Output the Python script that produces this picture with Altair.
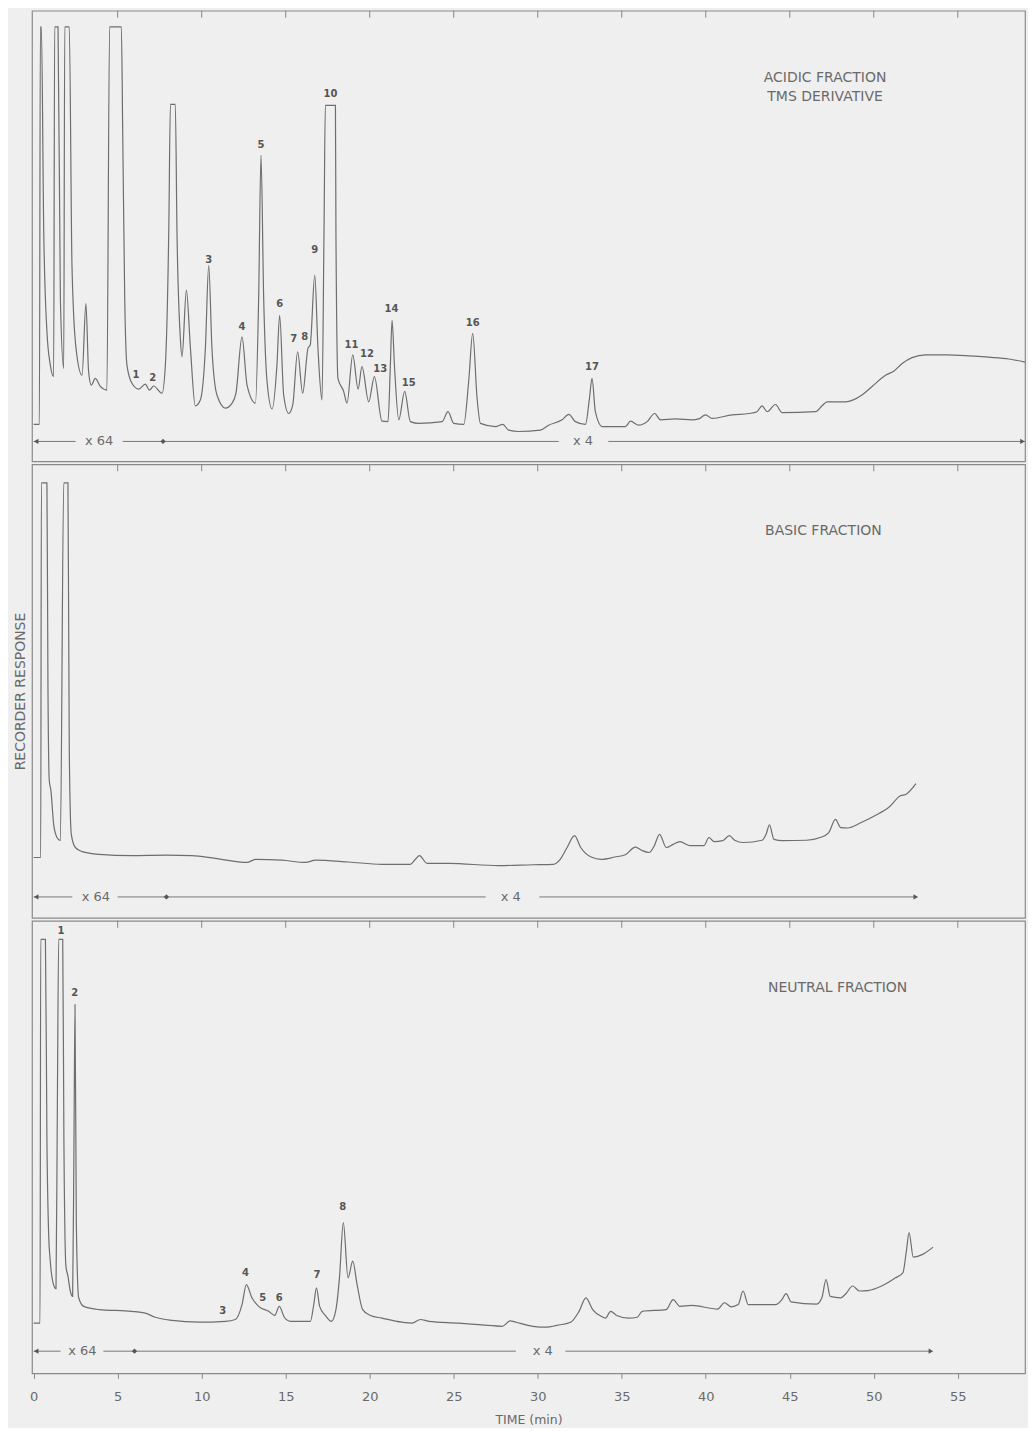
import altair as alt
import pandas as pd

# ---------------- data ----------------
X_DOMAIN = [-0.1, 59.0]
TICK_MINUTES = [5, 10, 15, 20, 25, 30, 35, 40, 45, 50, 55]
AXIS_LABELS = [0, 5, 10, 15, 20, 25, 30, 35, 40, 45, 50, 55]

# (time min, response % of panel height)
acid_trace = [
    (0.0, 8.2), (0.34, 8.2), (0.40, 96.4), (0.46, 96.4), (0.60, 51.0), (0.79, 28.8), (0.99, 21.4),
    (1.19, 18.8), (1.25, 96.4), (1.45, 96.4), (1.59, 36.1), (1.79, 20.6), (1.85, 96.4), (2.12, 96.4),
    (2.28, 43.5), (2.52, 25.1), (2.88, 19.1), (3.11, 35.0), (3.27, 19.9), (3.43, 16.9), (3.67, 18.4),
    (3.97, 16.6), (4.36, 15.8), (4.52, 96.4), (5.22, 96.4), (5.30, 73.0), (5.42, 36.1), (5.55, 21.4),
    (5.85, 17.3), (6.25, 16.0), (6.65, 17.1), (6.89, 15.8), (7.14, 16.7), (7.64, 15.1), (7.84, 21.4),
    (8.04, 50.9), (8.14, 79.2), (8.43, 79.2), (8.53, 50.9), (8.73, 27.3), (8.83, 23.2), (9.09, 38.0),
    (9.33, 25.1), (9.62, 12.3), (9.92, 13.6), (10.22, 25.1), (10.42, 43.5), (10.61, 25.1), (10.91, 14.7),
    (11.41, 11.8), (11.81, 12.9), (12.04, 15.1), (12.40, 27.6), (12.70, 16.9), (13.20, 12.9), (13.39, 36.1),
    (13.53, 67.9), (13.69, 36.1), (13.89, 17.7), (14.19, 11.6), (14.48, 21.4), (14.64, 32.4), (14.88, 14.7),
    (15.18, 10.6), (15.42, 12.5), (15.71, 24.3), (16.01, 15.1), (16.33, 25.1), (16.46, 25.8), (16.73, 41.3),
    (16.92, 25.1), (17.16, 13.6), (17.28, 50.9), (17.36, 79.0), (17.96, 79.0), (17.99, 50.9), (18.11, 18.4),
    (18.45, 15.5), (18.65, 12.9), (18.99, 23.6), (19.31, 16.0), (19.54, 21.0), (19.94, 13.2), (20.28, 18.8),
    (20.73, 8.9), (21.09, 8.8), (21.23, 21.4), (21.33, 31.3), (21.47, 21.4), (21.73, 9.2), (22.08, 15.5),
    (22.42, 8.8), (22.92, 8.4), (24.31, 8.8), (24.66, 11.0), (25.0, 8.4), (25.6, 8.2), (25.89, 17.7),
    (26.13, 28.4), (26.39, 14.0), (26.59, 8.4), (27.48, 7.7), (27.92, 8.2), (28.27, 6.9), (28.87, 6.6),
    (30.16, 6.9), (30.65, 8.0), (31.45, 9.2), (31.85, 10.4), (32.24, 8.8), (32.84, 8.2), (33.08, 14.0),
    (33.23, 18.4), (33.43, 11.0), (33.83, 7.7), (35.22, 7.7), (35.52, 8.9), (36.01, 8.0), (36.51, 8.8),
    (36.96, 10.6), (37.30, 9.2), (38.19, 9.4), (39.19, 9.2), (39.58, 9.4), (39.98, 10.3), (40.38, 9.5),
    (41.57, 10.3), (42.56, 10.6), (43.05, 11.0), (43.35, 12.3), (43.65, 11.0), (44.15, 12.6), (44.54, 10.8),
    (46.53, 11.0), (46.92, 12.3), (47.22, 13.2), (48.31, 13.2), (49.30, 14.7), (49.90, 16.6), (50.70, 19.1),
    (51.19, 20.0), (51.69, 21.7), (52.28, 23.0), (53.08, 23.6), (54.27, 23.6), (55.65, 23.4), (56.85, 23.1),
    (58.04, 22.7), (59.0, 22.0),
]

basic_trace = [
    (0.0, 13.3), (0.42, 13.3), (0.46, 95.9), (0.79, 95.9), (0.85, 51.5), (0.93, 30.2), (1.03, 28.0),
    (1.19, 20.6), (1.39, 17.7), (1.59, 17.0), (1.79, 95.9), (2.04, 95.9), (2.12, 36.8), (2.24, 18.4),
    (2.48, 15.5), (2.88, 14.6), (3.87, 14.0), (5.85, 13.7), (7.84, 13.8), (9.42, 13.7), (10.81, 13.1),
    (12.70, 12.2), (13.20, 12.9), (14.78, 12.7), (16.17, 12.2), (16.77, 12.7), (18.75, 12.3), (20.73, 11.8),
    (22.42, 11.8), (22.72, 12.9), (22.96, 13.7), (23.41, 12.0), (24.70, 12.0), (27.68, 11.5), (29.71, 11.7),
    (30.93, 11.8), (31.34, 12.9), (31.75, 15.5), (32.19, 18.1), (32.56, 15.5), (33.18, 13.4), (33.78, 12.9),
    (34.59, 13.4), (35.21, 13.9), (35.81, 15.6), (36.22, 14.8), (36.63, 14.4), (36.94, 15.9), (37.25, 18.4),
    (37.65, 15.5), (38.06, 16.2), (38.46, 16.8), (39.08, 15.9), (39.89, 15.9), (40.19, 17.7), (40.50, 16.8),
    (41.00, 17.0), (41.41, 18.1), (41.72, 17.1), (42.22, 16.6), (43.35, 17.1), (43.59, 18.4), (43.79, 20.5),
    (44.06, 17.3), (44.57, 17.0), (46.00, 17.1), (46.81, 17.7), (47.32, 18.8), (47.72, 21.7), (48.03, 19.9),
    (48.44, 19.8), (49.25, 21.0), (50.06, 22.5), (50.88, 24.3), (51.59, 26.9), (51.90, 27.2), (52.51, 29.6),
]

neutral_trace = [
    (0.0, 11.1), (0.38, 11.1), (0.42, 95.9), (0.70, 95.9), (0.79, 51.5), (0.89, 31.1), (0.99, 24.8),
    (1.13, 20.4), (1.33, 18.7), (1.41, 58.9), (1.49, 95.9), (1.73, 95.9), (1.80, 51.5), (1.92, 23.7),
    (2.04, 21.5), (2.18, 18.2), (2.32, 17.0), (2.40, 51.5), (2.46, 81.5), (2.54, 33.0), (2.68, 16.7),
    (2.98, 14.8), (3.87, 14.1), (5.85, 13.7), (6.65, 13.3), (7.24, 12.4), (8.23, 11.7), (9.82, 11.3),
    (11.41, 11.5), (12.0, 11.9), (12.40, 15.2), (12.66, 19.6), (12.99, 16.7), (13.39, 14.8), (13.99, 13.7),
    (14.35, 12.8), (14.62, 14.8), (14.92, 12.4), (15.28, 11.5), (16.47, 11.5), (16.67, 15.2), (16.83, 18.9),
    (17.02, 14.8), (17.36, 12.8), (17.72, 11.5), (17.99, 14.1), (18.20, 21.1), (18.43, 33.3), (18.71, 21.1),
    (18.99, 24.8), (19.25, 19.6), (19.58, 14.1), (20.04, 12.8), (20.73, 12.2), (21.92, 11.3), (22.52, 11.1),
    (23.02, 11.9), (23.51, 11.5), (25.30, 11.1), (26.69, 10.7), (27.88, 10.4), (28.37, 11.6), (28.70, 11.3),
    (29.71, 10.4), (30.53, 10.2), (31.14, 10.6), (31.96, 11.3), (32.46, 13.7), (32.87, 16.7), (33.27, 14.1),
    (33.78, 12.6), (34.03, 12.2), (34.34, 13.7), (34.70, 12.8), (35.41, 12.2), (35.92, 12.4), (36.22, 13.7),
    (37.65, 14.1), (38.06, 16.3), (38.46, 14.8), (39.18, 15.0), (40.71, 14.2), (41.11, 15.6), (41.52, 14.7),
    (41.93, 15.2), (42.22, 18.2), (42.53, 15.2), (44.16, 15.2), (44.53, 16.3), (44.78, 17.6), (45.08, 15.8),
    (46.60, 15.3), (46.91, 16.7), (47.16, 20.7), (47.41, 17.0), (48.03, 16.7), (48.34, 17.6), (48.74, 19.3),
    (49.15, 18.2), (49.66, 18.3), (50.47, 19.3), (51.29, 21.1), (51.73, 22.2), (51.94, 27.0), (52.10, 31.1),
    (52.35, 25.7), (52.91, 26.3), (53.53, 27.9),
]

# peak numbers: (label, time, response)
acid_peaks = [
    ("1", 6.09, 19.1), ("2", 7.08, 18.4), ("3", 10.42, 44.6), ("4", 12.40, 29.9), ("5", 13.53, 70.1),
    ("6", 14.64, 35.0), ("7", 15.48, 27.1), ("8", 16.13, 27.6), ("9", 16.73, 46.9), ("10", 17.66, 81.6),
    ("11", 18.91, 25.8), ("12", 19.84, 23.9), ("13", 20.63, 20.5), ("14", 21.29, 33.9), ("15", 22.32, 17.3),
    ("16", 26.13, 30.6), ("17", 33.23, 21.0),
]
basic_peaks = []
neutral_peaks = [
    ("1", 1.63, 97.8), ("2", 2.44, 84.1), ("3", 11.25, 13.7), ("4", 12.60, 22.2), ("5", 13.63, 16.7),
    ("6", 14.62, 16.7), ("7", 16.86, 21.8), ("8", 18.39, 36.7),
]

# fraction names: (text line, time, response)
acid_names = [("ACIDIC FRACTION", 47.1, 85.1), ("TMS DERIVATIVE", 47.1, 80.9)]
basic_names = [("BASIC FRACTION", 47.0, 85.2)]
neutral_names = [("NEUTRAL FRACTION", 47.85, 85.1)]

# attenuation bars: segments (t, t2, v), labels (text, t, v), heads (shape, t, v)
acid_att_segments = [(0.0, 2.5, 4.4), (5.3, 31.25, 4.4), (34.2, 59.0, 4.4)]
acid_att_labels = [("x 64", 3.9, 4.4), ("x 4", 32.7, 4.4)]
acid_att_heads = [("triangle-left", 0.15, 4.4), ("diamond", 7.7, 4.4), ("triangle-right", 58.85, 4.4)]

basic_att_segments = [(0.0, 2.3, 4.6), (5.0, 26.9, 4.6), (30.1, 52.5, 4.6)]
basic_att_labels = [("x 64", 3.7, 4.6), ("x 4", 28.4, 4.6)]
basic_att_heads = [("triangle-left", 0.15, 4.6), ("diamond", 7.9, 4.6), ("triangle-right", 52.5, 4.6)]

neutral_att_segments = [(0.0, 1.6, 4.9), (4.15, 28.7, 4.9), (31.65, 53.4, 4.9)]
neutral_att_labels = [("x 64", 2.9, 4.9), ("x 4", 30.3, 4.9)]
neutral_att_heads = [("triangle-left", 0.15, 4.9), ("diamond", 6.0, 4.9), ("triangle-right", 53.4, 4.9)]

# ---------------- styling ----------------
FONT = "DejaVu Sans"
TRACE = "#6e6e6e"
INK = "#6a6a6a"
WIDTH = 994


def make_panel(trace, peaks, names, segs, att_labels, heads, height, bottom_axis, show_ytitle):
    xs = alt.Scale(domain=X_DOMAIN, nice=False, zero=False)
    ys = alt.Scale(domain=[0, 100], nice=False, zero=False)
    if bottom_axis:
        xaxis = alt.Axis(values=AXIS_LABELS, title="TIME (min)", tickSize=5, tickColor="#888",
                         domain=False, grid=False, labelFontSize=13, labelColor=INK, labelFont=FONT,
                         labelPadding=12, titleFontSize=12.5, titleFont=FONT, titleFontWeight="normal",
                         titleColor=INK, titlePadding=10)
    else:
        xaxis = None
    yaxis = alt.Axis(title="RECORDER RESPONSE", labels=False, ticks=False, domain=False, grid=False,
                     titleFontSize=14, titleFont=FONT, titleFontWeight="normal", titleColor=INK,
                     titlePadding=4, titleOpacity=1 if show_ytitle else 0)

    def X(f="t"):
        return alt.X(f"{f}:Q", scale=xs, axis=xaxis)

    def Y(f="v"):
        return alt.Y(f"{f}:Q", scale=ys, axis=yaxis)

    tdf = pd.DataFrame(trace, columns=["t", "v"])
    line = alt.Chart(tdf).mark_line(color=TRACE, strokeWidth=1.2, interpolate="monotone").encode(
        x=X(), y=Y(), order="t:Q")

    layers = [line]

    ticks_df = pd.DataFrame({"t": TICK_MINUTES})
    layers.append(alt.Chart(ticks_df).mark_rule(color="#888", strokeWidth=1).encode(
        x=X(), y=alt.value(0), y2=alt.value(7)))

    if peaks:
        pdf = pd.DataFrame(peaks, columns=["label", "t", "v"])
        layers.append(alt.Chart(pdf).mark_text(font=FONT, fontSize=10, fontWeight="bold", color="#555",
                                               baseline="middle", align="center").encode(
            x=X(), y=Y(), text="label:N"))

    ndf = pd.DataFrame(names, columns=["label", "t", "v"])
    layers.append(alt.Chart(ndf).mark_text(font=FONT, fontSize=14, color=INK, baseline="middle",
                                           align="center").encode(x=X(), y=Y(), text="label:N"))

    sdf = pd.DataFrame(segs, columns=["t", "t2", "v"])
    layers.append(alt.Chart(sdf).mark_rule(color="#777", strokeWidth=1).encode(
        x=X(), x2="t2:Q", y=Y()))

    ldf = pd.DataFrame(att_labels, columns=["label", "t", "v"])
    layers.append(alt.Chart(ldf).mark_text(font=FONT, fontSize=13, color=INK, baseline="middle",
                                           align="center").encode(x=X(), y=Y(), text="label:N"))

    hdf = pd.DataFrame(heads, columns=["shape", "t", "v"])
    layers.append(alt.Chart(hdf).mark_point(filled=True, color="#555", opacity=1, size=28).encode(
        x=X(), y=Y(), shape=alt.Shape("shape:N", scale=None)))

    return alt.layer(*layers).properties(width=WIDTH, height=height)


top = make_panel(acid_trace, acid_peaks, acid_names, acid_att_segments, acid_att_labels,
                 acid_att_heads, 451, False, False)
mid = make_panel(basic_trace, basic_peaks, basic_names, basic_att_segments, basic_att_labels,
                 basic_att_heads, 454, False, True)
bot = make_panel(neutral_trace, neutral_peaks, neutral_names, neutral_att_segments, neutral_att_labels,
                 neutral_att_heads, 453, True, False)

chart = alt.vconcat(top, mid, bot, spacing=0).properties(
    background="#efefef",
    padding={"left": 5, "top": 0, "right": 0, "bottom": 0},
).configure_view(stroke="#8a8a8a", strokeWidth=1.2)

chart.save("out.html", embed_options={"renderer": "svg", "actions": False})
